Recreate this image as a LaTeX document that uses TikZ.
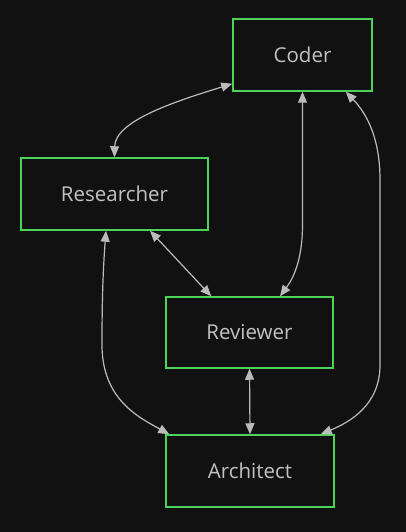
\documentclass[tikz,border=0pt]{standalone}
\usepackage{fontspec}
\setmainfont{Open Sans}
\usetikzlibrary{arrows.meta}
\definecolor{bg}{HTML}{111111}
\definecolor{boxgreen}{HTML}{4CD35A}
\definecolor{linegray}{HTML}{BBBBBB}
\definecolor{txtgray}{HTML}{C2C2C2}
\begin{document}
\begin{tikzpicture}[x=1pt,y=-1pt,
  agent/.style={draw=boxgreen,line width=1.5pt,fill=bg,text=txtgray,font=\fontsize{20.5}{24}\selectfont,inner sep=0pt,minimum height=72pt},
  link/.style={draw=linegray,line width=1.2pt,{Triangle[length=11pt,width=9pt,fill=linegray]}-{Triangle[length=11pt,width=9pt,fill=linegray]}}]
\fill[bg] (0,0) rectangle (406,532);
\useasboundingbox (0,0) rectangle (406,532);
\node[agent,minimum width=139pt] (coder) at (302.5,55) {Coder};
\node[agent,minimum width=187pt] (res) at (114.5,194) {Researcher};
\node[agent,minimum width=167pt,minimum height=71pt] (rev) at (249.5,332.5) {Reviewer};
\node[agent,minimum width=168pt] (arch) at (250,471) {Architect};
% Coder - Researcher
\draw[link] (res.north) .. controls (115,120) and (180,100) .. ([yshift=8pt]coder.south west);
% Researcher - Reviewer
\draw[link] ([xshift=35.5pt]res.south) -- ([xshift=46pt]rev.north west);
% Coder - Reviewer
\draw[link] (coder.south) -- (302.5,225) .. controls (302.5,262) and (292,280) .. ([xshift=30.5pt]rev.north);
% Coder - Architect
\draw[link] ([xshift=-27pt]coder.south east) .. controls (368,115) and (380,140) .. (380,180) -- (380,365) .. controls (380,405) and (350,422) .. ([xshift=-14pt]arch.north east);
% Researcher - Architect
\draw[link] ([xshift=-8.5pt]res.south) .. controls (103,270) and (102,300) .. (102,345) .. controls (102,400) and (140,418) .. ([xshift=4pt]arch.north west);
% Reviewer - Architect
\draw[link] (rev.south) -- (arch.north);
\end{tikzpicture}
\end{document}
